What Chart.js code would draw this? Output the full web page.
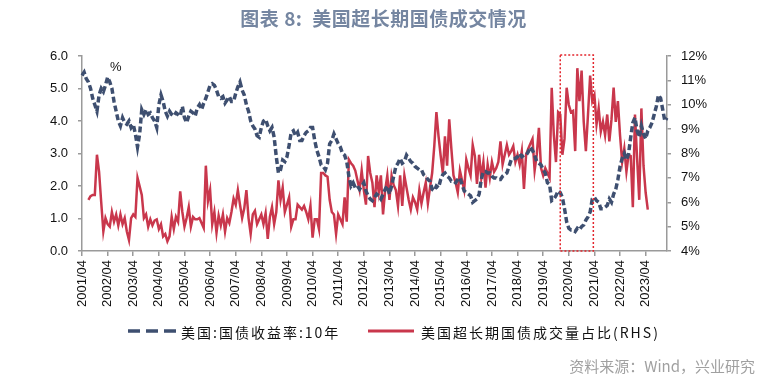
<!DOCTYPE html>
<html>
<head>
<meta charset="utf-8">
<script src="https://cdn.jsdelivr.net/npm/chart.js@4.4.0/dist/chart.umd.min.js"></script>
<style>
  html, body { margin: 0; padding: 0; background: #fff; }
  #wrap { position: relative; width: 767px; height: 387px; overflow: hidden; }
  #chart { position: absolute; left: 0; top: 0; }
  .txt { position: absolute; white-space: nowrap; }
  #title { left: 0; width: 767px; top: 4px; text-align: center; font: bold 19px "Noto Sans CJK SC", sans-serif; letter-spacing: 0.5px; color: #7586a1; }
  #unit { left: 110px; top: 59px; font: 13px "Liberation Sans", sans-serif; color: #111; }
  .leg { top: 322px; font: 14px "Noto Sans CJK SC", serif; letter-spacing: 2px; color: #111; }
  #source { right: 12px; top: 355px; font: 15px "Noto Sans CJK SC", sans-serif; color: #a0a0a0; }
  svg { position: absolute; }
</style>
</head>
<body>
<div id="wrap">
  <canvas id="chart" width="767" height="387"></canvas>
  <div class="txt" id="title">图表 8:&nbsp; 美国超长期国债成交情况</div>
  <div class="txt" id="unit">%</div>
  <svg style="left:126px;top:326px" width="52" height="10"><line x1="2" y1="5" x2="50" y2="5" stroke="#3e4f70" stroke-width="3.5" stroke-dasharray="12,6"/></svg>
  <div class="txt leg" style="left:181px">美国:国债收益率:10年</div>
  <svg style="left:366px;top:326px" width="50" height="10"><line x1="2" y1="5" x2="48" y2="5" stroke="#c9374c" stroke-width="3"/></svg>
  <div class="txt leg" style="left:421px">美国超长期国债成交量占比(RHS)</div>
  <div class="txt" id="source">资料来源：Wind，兴业研究</div>
</div>
<script>
// monthly categories, 2001/04 .. 2024/02
const startYear = 2001, startMonth = 4, monthCount = 275;
const months = [];
for (let i = 0; i < monthCount; i++) {
  const y = startYear + Math.floor((startMonth - 1 + i) / 12);
  const m = (startMonth - 1 + i) % 12 + 1;
  months.push(y + '/' + String(m).padStart(2, '0'));
}

const leftTicks = [0, 1, 2, 3, 4, 5, 6];
const rightTicks = [4, 5, 6, 7, 8, 9, 10, 11, 12];

// 美国:国债收益率:10年 (%), monthly from 2001/04
const yield10y = [
  5.4, 5.5, 5.3, 5.2, 5.0, 4.7, 4.5, 4.3, 4.8, 5.0, 4.9, 5.1,
  5.35, 5.2, 5.0, 4.6, 4.3, 4.0, 3.85, 4.1, 3.95, 3.9, 4.0, 3.8,
  3.9, 3.6, 3.2, 3.6, 4.35, 4.2, 4.35, 4.2, 4.25, 4.1, 4.0, 3.8,
  4.5, 4.8, 4.6, 4.3, 4.15, 4.3, 4.2, 4.15, 4.25, 4.2, 4.15, 4.45,
  4.1, 3.95, 4.15, 4.3, 4.25, 4.15, 4.4, 4.5, 4.35, 4.55, 4.7, 4.9,
  5.1, 5.15, 5.1, 4.95, 4.75, 4.7, 4.75, 4.55, 4.65, 4.75, 4.6, 4.6,
  4.85, 5.05, 5.2, 4.95, 4.8, 4.5, 4.3, 4.0, 3.85, 3.75, 3.55, 3.5,
  3.8, 4.0, 4.05, 3.85, 3.7, 3.8, 3.5, 2.9, 2.4, 2.5, 2.8, 2.75,
  2.9, 3.25, 3.65, 3.7, 3.55, 3.65, 3.4, 3.4, 3.55, 3.65, 3.7, 3.8,
  3.8, 3.4, 3.1, 2.9, 2.65, 2.6, 2.5, 2.7, 3.3, 3.4, 3.6, 3.45,
  3.3, 3.2, 3.0, 2.95, 2.75, 2.3, 2.0, 2.1, 1.95, 2.0, 1.9, 2.0,
  2.1, 1.85, 1.7, 1.6, 1.55, 1.65, 1.75, 1.7, 1.6, 1.75, 1.9, 2.0,
  1.75, 2.0, 2.3, 2.6, 2.7, 2.85, 2.7, 2.75, 2.95, 2.85, 2.75, 2.7,
  2.6, 2.55, 2.5, 2.5, 2.35, 2.3, 2.2, 2.15, 1.9, 1.85, 2.0, 1.95,
  2.2, 2.35, 2.4, 2.3, 2.25, 2.15, 2.15, 2.1, 2.2, 2.25, 2.05, 1.85,
  1.8, 1.75, 1.7, 1.5, 1.55, 1.6, 1.75, 2.2, 2.45, 2.45, 2.4, 2.4,
  2.3, 2.25, 2.25, 2.2, 2.2, 2.3, 2.35, 2.4, 2.6, 2.8, 2.85, 2.85,
  2.9, 3.0, 2.9, 2.95, 2.95, 3.05, 3.2, 3.1, 2.95, 2.75, 2.7, 2.65,
  2.5, 2.4, 2.1, 2.05, 1.55, 1.6, 1.7, 1.85, 1.8, 1.65, 1.3, 0.9,
  0.7, 0.65, 0.65, 0.6, 0.7, 0.65, 0.75, 0.8, 0.95, 1.05, 1.2, 1.6,
  1.65, 1.55, 1.5, 1.3, 1.3, 1.35, 1.4, 1.6, 1.5, 1.75, 1.9, 2.2,
  2.6, 2.85, 3.0, 2.8, 3.0, 3.5, 3.95, 4.1, 3.7, 3.5, 3.85, 3.6,
  3.45, 3.7, 3.8, 3.95, 4.2, 4.45, 4.8, 4.7, 4.35, 4.0, 4.1
];

// 美国超长期国债成交量占比 (%), monthly from 2001/07 to 2023/05
const ultraLongShare = [
  null, null, null,
  6.1, 6.25, 6.3, 6.3, 7.95, 7.25, 6.0, 4.8, 5.35,
  5.1, 5.0, 5.6, 5.2, 5.5, 5.05, 5.5, 5.1, 5.35, 4.8, 4.45, 5.35,
  5.5, 5.4, 7.0, 6.65, 6.3, 5.35, 5.5, 5.0, 5.3, 5.05, 5.25, 5.3,
  4.9, 5.1, 4.6, 4.7, 4.4, 4.6, 5.4, 4.9, 5.4, 5.2, 6.45, 5.6,
  5.0, 5.35, 5.8, 5.0, 5.4, 5.3, 5.3, 5.35, 5.15, 4.95, 7.5, 6.05,
  6.5, 5.1, 5.6, 4.75, 5.45, 5.05, 5.5, 4.8, 5.35, 5.15, 5.6, 6.15,
  5.9, 6.5, 5.9, 5.35, 5.75, 6.5, 5.35, 4.7, 5.5, 5.65, 5.1, 5.3,
  5.5, 5.1, 5.55, 4.5, 5.4, 5.8, 5.1, 5.6, 6.9, 6.1, 6.6, 5.6,
  5.9, 6.2, 5.0, 5.3, 5.3, 5.9, 5.8, 5.7, 5.85, 5.6, 5.3, 5.85,
  4.55, 5.3, 5.3, 4.9, 7.2, 7.2, 7.1, 7.05, 6.1, 5.6, 5.5, 4.7,
  5.5, 5.3, 5.1, 6.2, 5.2, 7.75, 7.6, 7.5, 7.3, 6.9, 6.5, 7.3,
  6.5, 5.9, 7.9, 7.2, 6.8, 5.8, 7.1, 6.4, 7.1, 5.5, 6.5, 7.1,
  6.1, 7.1, 6.7, 6.5, 5.85, 7.1, 5.85, 7.1, 6.6, 6.1, 5.7, 6.2,
  6.0, 5.7, 6.5, 5.95, 6.4, 6.8, 5.95, 6.6, 7.2, 8.3, 9.7, 8.7,
  7.9, 7.2, 8.7, 7.5, 9.4, 8.2, 7.1, 6.8, 6.4, 7.3, 6.9, 6.5,
  7.75, 7.4, 7.1, 8.35, 7.9, 6.75, 7.95, 7.0, 7.65, 6.6, 7.55, 7.0,
  7.65, 7.25, 7.4, 7.65, 8.5, 7.55, 7.95, 8.35, 7.95, 8.1, 8.3, 7.65,
  7.95, 7.55, 8.1, 6.55, 7.95, 8.2, 8.4, 8.6, 7.3, 7.95, 9.05, 7.4,
  7.1, 7.4, 7.2, 7.0, 10.7, 8.75, 7.65, 9.7, 9.6, 7.95, 8.6, 10.7,
  10.0, 9.7, 9.75, 8.1, 11.5, 10.15, 11.4, 9.3, 8.1, 9.6, 11.2, 10.15,
  10.4, 9.2, 9.85, 8.9, 9.3, 8.75, 9.6, 8.5, 9.4, 10.7, 9.3, 10.15,
  8.75, 7.65, 8.2, 7.25, 7.95, 7.9, 5.8, 9.6, 7.8, 6.1, 9.85, 7.5,
  6.4, 5.7
];

// highlighted window 2020 (red dotted box), in category index units
const boxFrom = 224, boxTo = 239.5;

const axisGrey = '#9a9a9a';
const tickFont = { family: 'Liberation Sans', size: 13 };

const highlightBox = {
  id: 'highlightBox',
  afterDatasetsDraw(chart) {
    const { ctx, chartArea, scales } = chart;
    const x1 = scales.x.getPixelForValue(boxFrom);
    const x2 = scales.x.getPixelForValue(boxTo);
    ctx.save();
    ctx.strokeStyle = '#e3262d';
    ctx.lineWidth = 1.5;
    ctx.setLineDash([2, 2]);
    ctx.strokeRect(x1, chartArea.top - 1, x2 - x1, chartArea.bottom - chartArea.top + 1);
    ctx.restore();
  }
};

new Chart(document.getElementById('chart'), {
  type: 'line',
  data: {
    labels: months,
    datasets: [
      {
        label: '美国:国债收益率:10年',
        data: yield10y,
        yAxisID: 'y',
        borderColor: '#3e4f70',
        borderWidth: 3.5,
        borderDash: [6, 3],
        pointRadius: 0,
        tension: 0
      },
      {
        label: '美国超长期国债成交量占比(RHS)',
        data: ultraLongShare,
        yAxisID: 'y1',
        borderColor: '#c9374c',
        borderWidth: 2.5,
        pointRadius: 0,
        tension: 0
      }
    ]
  },
  options: {
    responsive: false,
    animation: false,
    layout: { padding: { top: 56 } },
    plugins: { legend: { display: false }, tooltip: { enabled: false } },
    scales: {
      x: {
        offset: false,
        grid: { drawOnChartArea: false, color: axisGrey, tickLength: 5, lineWidth: 1.5 },
        border: { color: axisGrey, width: 1.5 },
        ticks: {
          autoSkip: false, minRotation: 90, maxRotation: 90, padding: 4,
          color: '#111', font: tickFont,
          callback(value) {
            const l = this.getLabelForValue(value);
            return l.endsWith('/04') ? l : null;
          }
        },
        afterFit(scale) { scale.height = 136; }
      },
      y: {
        position: 'left', min: 0, max: 6,
        afterBuildTicks(scale) { scale.ticks = leftTicks.map(v => ({ value: v })); },
        grid: { drawOnChartArea: false, color: axisGrey, tickLength: 4, lineWidth: 1.5 },
        border: { color: axisGrey, width: 1.5 },
        ticks: { color: '#111', font: tickFont, padding: 10, callback: v => v.toFixed(1) },
        afterFit(scale) { scale.width = 82; }
      },
      y1: {
        position: 'right', min: 4, max: 12,
        afterBuildTicks(scale) { scale.ticks = rightTicks.map(v => ({ value: v })); },
        grid: { drawOnChartArea: false, color: axisGrey, tickLength: 4, lineWidth: 1.5 },
        border: { color: axisGrey, width: 1.5 },
        ticks: { color: '#111', font: tickFont, padding: 10, callback: v => v + '%' },
        afterFit(scale) { scale.width = 100; }
      }
    }
  },
  plugins: [highlightBox]
});
</script>
</body>
</html>
